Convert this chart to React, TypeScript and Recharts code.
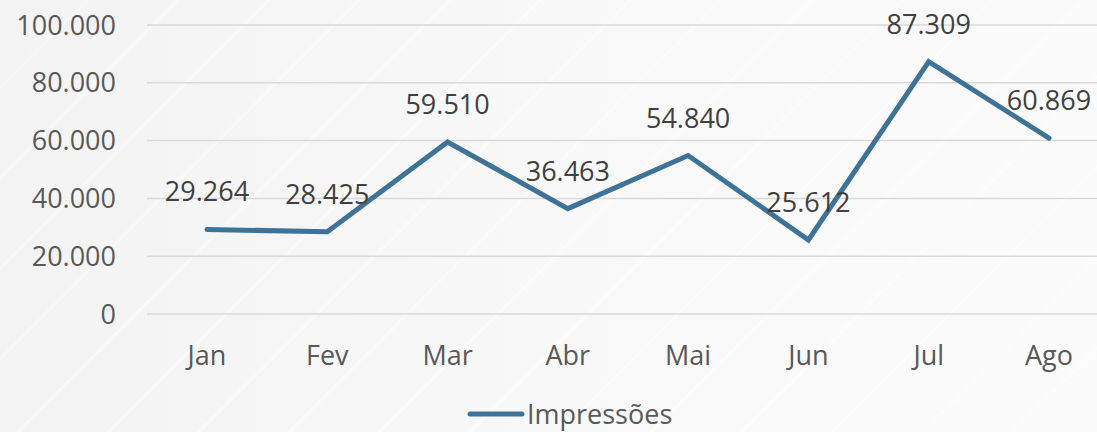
import { CartesianGrid, LabelList, Legend, Line, LineChart, XAxis, YAxis } from "recharts";

const months = ["Jan", "Fev", "Mar", "Abr", "Mai", "Jun", "Jul", "Ago"];
const impressions = [29264, 28425, 59510, 36463, 54840, 25612, 87309, 60869];
const yTicks = [0, 20000, 40000, 60000, 80000, 100000];

const chartData = months.map((m, i) => ({ month: m, impressoes: impressions[i] }));

const FONT = "'Open Sans', 'Noto Sans', sans-serif";
const LINE_COLOR = "#3e7297";

const fmt = (v: number) => v.toLocaleString("pt-BR");

function LegendBox() {
  return (
    <div
      style={{
        position: "absolute",
        left: 467,
        top: 396,
        display: "flex",
        alignItems: "center",
        fontFamily: FONT,
        fontSize: 27,
        lineHeight: "36px",
        color: "#595959",
        whiteSpace: "nowrap",
      }}
    >
      <svg width={58} height={10} style={{ marginRight: 2 }}>
        <line x1={3} y1={5} x2={55} y2={5} stroke={LINE_COLOR} strokeWidth={5} strokeLinecap="round" />
      </svg>
      <span>Impressões</span>
    </div>
  );
}

export default function App() {
  return (
    <div
      style={{
        position: "fixed",
        left: 0,
        top: 0,
        width: 1097,
        height: 432,
        overflow: "hidden",
        background:
          "repeating-linear-gradient(135deg, rgba(255,255,255,0) 0px, rgba(255,255,255,0) 60px, rgba(255,255,255,0.5) 62px, rgba(255,255,255,0) 64px), linear-gradient(90deg, #f3f3f3 0%, #f8f8f8 50%, #fbfbfb 100%)",
      }}
    >
      <LineChart
        width={1120}
        height={432}
        data={chartData}
        margin={{ top: 25, right: 11, bottom: 0, left: 0 }}
        style={{ fontFamily: FONT }}
      >
        <CartesianGrid vertical={false} stroke="#d9d9d9" strokeWidth={1.5} />
        <XAxis
          dataKey="month"
          axisLine={false}
          tickLine={false}
          tickSize={0}
          tickMargin={32}
          height={118}
          padding={{ left: 60, right: 60 }}
          tick={{ fill: "#595959", fontSize: 27 }}
          interval={0}
        />
        <YAxis
          domain={[0, 100000]}
          ticks={yTicks}
          axisLine={false}
          tickLine={false}
          tickSize={0}
          tickMargin={31}
          width={147}
          tickFormatter={fmt}
          tick={{ fill: "#595959", fontSize: 27 }}
        />
        <Legend content={() => <LegendBox />} wrapperStyle={{ left: 0, top: 0, width: 0, height: 0 }} />
        <Line
          type="linear"
          dataKey="impressoes"
          name="Impressões"
          stroke={LINE_COLOR}
          strokeWidth={5}
          dot={false}
          activeDot={false}
          strokeLinecap="round"
          strokeLinejoin="miter"
          isAnimationActive={false}
        >
          <LabelList
            dataKey="impressoes"
            position="top"
            offset={28}
            formatter={(v: any) => fmt(Number(v))}
            style={{ fill: "#404040", fontSize: 27, fontFamily: FONT }}
          />
        </Line>
      </LineChart>
    </div>
  );
}
